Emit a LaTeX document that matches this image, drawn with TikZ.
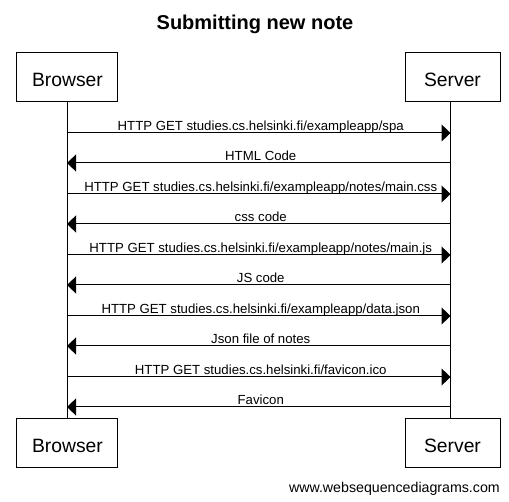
\documentclass[tikz,border=0pt]{standalone}
\usepackage{fontspec}
\setmainfont{Liberation Sans}
\usetikzlibrary{arrows.meta}
\begin{document}
\begin{tikzpicture}[x=1pt,y=-1pt,
  actor/.style={draw=black,line width=1pt,minimum height=49pt,inner sep=0pt},
  atext/.style={anchor=base,inner sep=0pt,font=\fontsize{19.3}{21}\selectfont},
  msg/.style={line width=1pt,-{Triangle[length=9pt,width=17pt]}},
  lbl/.style={font=\fontsize{13.2}{14}\selectfont,inner sep=0pt,anchor=base},
  life/.style={line width=1pt}]
\useasboundingbox (0,0) rectangle (509,502);
\node[anchor=base,inner sep=0pt,font=\bfseries\fontsize{20}{22}\selectfont] (title) at (255,30) {Submitting new note};
\node[actor,minimum width=101pt] (btop) at (66.5,77.5) {};
\node[actor,minimum width=95pt] (stop) at (452.5,77.5) {};
\node[actor,minimum width=101pt] (bbot) at (66.5,443.5) {};
\node[actor,minimum width=95pt] (sbot) at (452.5,443.5) {};
\node[atext] (btopt) at (67.5,86.7) {Browser};
\node[atext] (stopt) at (452.5,86.7) {Server};
\node[atext] (bbott) at (67.5,452.7) {Browser};
\node[atext] (sbott) at (452.5,452.7) {Server};
\coordinate (bl1) at (67,102);
\coordinate (bl2) at (67,419);
\coordinate (sl1) at (450.5,102);
\coordinate (sl2) at (450.5,419);
\draw[life] (bl1) -- (bl2);
\draw[life] (sl1) -- (sl2);
\foreach \i/\y/\d/\t in {
  1/133/r/{HTTP GET studies.cs.helsinki.fi/exampleapp/spa},
  2/163/l/{HTML Code},
  3/194/r/{HTTP GET studies.cs.helsinki.fi/exampleapp/notes/main.css},
  4/224/l/{css code},
  5/255/r/{HTTP GET studies.cs.helsinki.fi/exampleapp/notes/main.js},
  6/285/l/{JS code},
  7/316/r/{HTTP GET studies.cs.helsinki.fi/exampleapp/data.json},
  8/346/l/{Json file of notes},
  9/377/r/{HTTP GET studies.cs.helsinki.fi/favicon.ico},
  10/407/l/{Favicon}}{
  \coordinate (b\i) at (67,\y);
  \coordinate (s\i) at (450.5,\y);
  \if\d r
    \draw[msg] (b\i) -- (s\i) node[lbl,midway,yshift=2.8pt,xshift=2pt] {\t};
  \else
    \draw[msg] (s\i) -- (b\i) node[lbl,midway,yshift=2.8pt,xshift=2pt] {\t};
  \fi
}
\node[anchor=base east,inner sep=0pt,font=\fontsize{14.2}{15}\selectfont] (wm) at (500,492.5) {www.websequencediagrams.com};
\end{tikzpicture}
\end{document}
